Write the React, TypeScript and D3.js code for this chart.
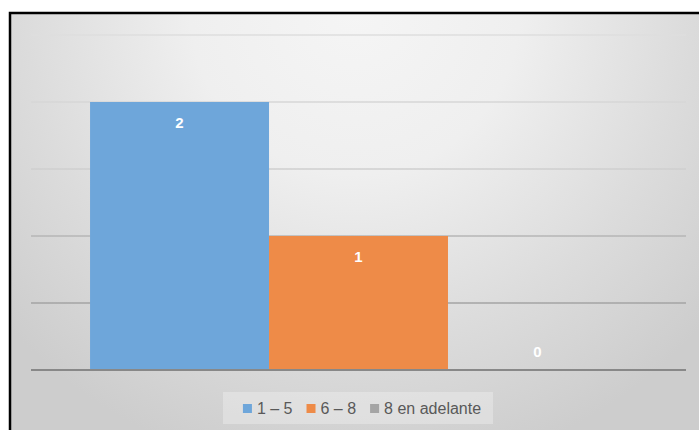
import React from "react";
import * as d3 from "d3";

// Single category, three series (clustered columns)
const categories = [""];
const seriesNames = ["1 – 5", "6 – 8", "8 en adelante"];
const seriesValues = [2, 1, 0];
const seriesColors = ["#6ea6da", "#ee8b48", "#a5a5a5"];
const yTicks = [0, 0.5, 1, 1.5, 2, 2.5];

const W = 699;
const H = 430;
const plot = { left: 31, right: 686, top: 35, bottom: 370 };

const legendFont = "16px 'Liberation Sans', Arial, sans-serif";

function measure(text: string, font: string): number {
  const c = document.createElement("canvas").getContext("2d");
  if (!c) return text.length * 8;
  c.font = font;
  return c.measureText(text).width;
}

export default function App() {
  const y = d3.scaleLinear().domain([0, 2.5]).range([plot.bottom, plot.top]);
  const x0 = d3.scaleBand<string>().domain(categories).range([plot.left, plot.right]).padding(0);
  const x1 = d3
    .scaleBand<string>()
    .domain(seriesNames)
    .range([0, x0.bandwidth()])
    .paddingInner(0)
    .paddingOuter(0.33);

  // legend layout
  const sq = 9;
  const sqGap = 5;
  const itemGap = 14;
  const widths = seriesNames.map((s) => measure(s, legendFont));
  const total = widths.reduce((a, w) => a + sq + sqGap + w, 0) + itemGap * (seriesNames.length - 1);
  const legendCx = 362;
  let lx = legendCx - total / 2;
  const legendItems = seriesNames.map((s, i) => {
    const item = { name: s, x: lx, color: seriesColors[i] };
    lx += sq + sqGap + widths[i] + itemGap;
    return item;
  });

  return (
    <svg
      width={W}
      height={H}
      style={{ position: "absolute", left: 0, top: 0, display: "block" }}
      fontFamily="'Liberation Sans', Arial, sans-serif"
    >
      <defs>
        <radialGradient id="bg" gradientUnits="userSpaceOnUse" cx={355} cy={10} r={470}>
          <stop offset="0" stopColor="#f5f5f5" />
          <stop offset="0.35" stopColor="#efefef" />
          <stop offset="0.7" stopColor="#dcdcdc" />
          <stop offset="1" stopColor="#cdcdcd" />
        </radialGradient>
        <linearGradient id="grid" gradientUnits="userSpaceOnUse" x1={0} y1={plot.top} x2={0} y2={plot.bottom}>
          <stop offset="0" stopColor="#dedede" />
          <stop offset="0.4" stopColor="#cfcfcf" />
          <stop offset="0.7" stopColor="#a9a9a9" />
          <stop offset="1" stopColor="#999999" />
        </linearGradient>
      </defs>
      <rect x={0} y={0} width={W} height={H} fill="#ffffff" />
      <rect x={10} y={13} width={W + 20} height={H + 20} fill="url(#bg)" stroke="#000" strokeWidth={2.5} />

      {/* gridlines */}
      <g>
        {yTicks.slice(1).map((t) => (
          <line
            key={t}
            x1={plot.left}
            x2={plot.right}
            y1={y(t)}
            y2={y(t)}
            stroke="url(#grid)"
            strokeWidth={1.5}
          />
        ))}
      </g>

      {/* bars */}
      {categories.map((c) => (
        <g key={c} transform={`translate(${x0(c)},0)`}>
          {seriesNames.map((s, i) => {
            const v = seriesValues[i];
            const bx = x1(s)!;
            return (
              <g key={s}>
                <rect
                  x={bx}
                  y={y(v)}
                  width={x1.bandwidth()}
                  height={y(0) - y(v)}
                  fill={seriesColors[i]}
                />
                <text
                  x={bx + x1.bandwidth() / 2}
                  y={v > 0 ? y(v) + 26 : y(0) - 13}
                  textAnchor="middle"
                  fill="#ffffff"
                  fontSize={15}
                  fontWeight="bold"
                >
                  {v}
                </text>
              </g>
            );
          })}
        </g>
      ))}

      {/* baseline */}
      <line
        x1={plot.left}
        x2={plot.right}
        y1={y(0)}
        y2={y(0)}
        stroke="#888888"
        strokeWidth={1.8}
      />

      {/* legend */}
      <rect x={223} y={392} width={270} height={32} fill="#ffffff" fillOpacity={0.28} />
      {legendItems.map((it) => (
        <g key={it.name}>
          <rect x={it.x} y={404} width={sq} height={sq} fill={it.color} />
          <text x={it.x + sq + sqGap} y={414} fill="#595959" style={{ font: legendFont }}>
            {it.name}
          </text>
        </g>
      ))}
    </svg>
  );
}
